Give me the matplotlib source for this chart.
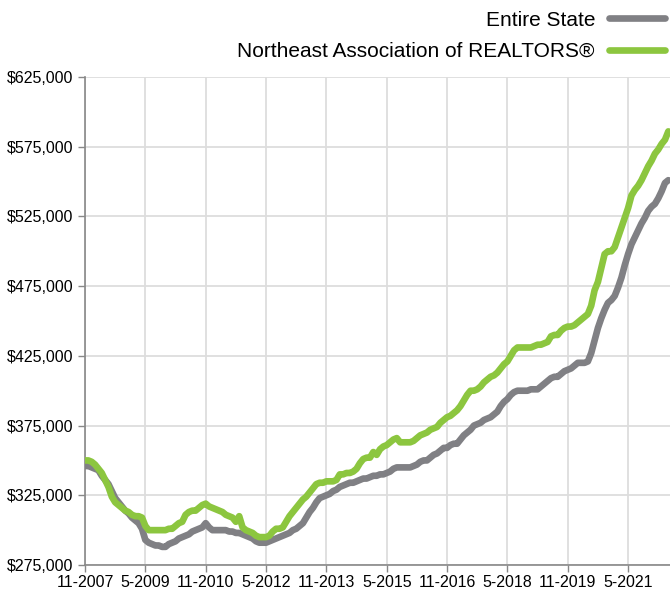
"""Median sales price: Entire State vs Northeast Association of REALTORS"""

import matplotlib
matplotlib.use("Agg")
import matplotlib.pyplot as plt
from matplotlib.ticker import FuncFormatter

# Monthly values (thousands of $), 11-2007 .. 5-2022
entire_state = [
    346, 346, 345, 344, 343, 339, 336, 333, 328, 323, 320, 317,
    314, 312, 309, 307, 305, 301, 293, 291, 290, 289, 289, 288,
    288, 290, 291, 292, 294, 295, 296, 297, 299, 300, 301, 302,
    305, 302, 300, 300, 300, 300, 300, 299, 299, 298, 298, 297,
    296, 295, 294, 292, 291, 291, 291, 292, 293, 294, 295, 296,
    297, 298, 300, 301, 303, 305, 309, 313, 316, 320, 323, 324,
    325, 326, 328, 329, 331, 332, 333, 334, 334, 335, 336, 337,
    337, 338, 339, 339, 340, 340, 341, 342, 344, 345, 345, 345,
    345, 345, 346, 347, 349, 350, 350, 352, 354, 355, 357, 359,
    359, 361, 362, 362, 365, 368, 370, 372, 375, 376, 377, 379,
    380, 381, 383, 385, 389, 392, 394, 397, 399, 400, 400, 400,
    400, 401, 401, 401, 403, 405, 407, 409, 410, 410, 412, 414,
    415, 416, 418, 420, 420, 420, 421, 427, 436, 445, 452, 458,
    463, 465, 468, 474, 481, 490, 498, 505, 510, 515, 520, 524,
    529, 532, 534, 538, 543, 549, 551,
]
northeast = [
    350, 350, 349, 347, 344, 341, 336, 331, 324, 320, 318, 316,
    314, 313, 311, 310, 310, 309, 303, 300, 300, 300, 300, 300,
    300, 301, 301, 303, 305, 306, 311, 313, 314, 314, 316, 318,
    319, 317, 316, 315, 314, 313, 311, 310, 309, 306, 310, 302,
    300, 299, 298, 296, 295, 295, 295, 296, 299, 301, 301, 302,
    306, 310, 313, 316, 319, 322, 324, 327, 330, 333, 334, 334,
    335, 335, 335, 336, 340, 340, 341, 341, 342, 344, 348, 351,
    352, 352, 356, 354, 358, 360, 361, 363, 365, 366, 363, 363,
    363, 363, 364, 366, 368, 369, 370, 372, 373, 374, 377, 379,
    381, 382, 384, 386, 389, 393, 397, 400, 400, 401, 403, 406,
    408, 410, 411, 413, 416, 419, 421, 425, 429, 431, 431, 431,
    431, 431, 432, 433, 433, 434, 435, 439, 440, 440, 443, 445,
    446, 446, 447, 449, 451, 453, 455, 461, 472, 478, 488, 498,
    500, 500, 503, 510, 517, 524, 531, 540, 544, 547, 551, 556,
    561, 565, 570, 573, 577, 580, 586,
]
tick_labels = ['11-2007', '5-2009', '11-2010', '5-2012', '11-2013',
               '5-2015', '11-2016', '5-2018', '11-2019', '5-2021']
y_ticks = [275000, 325000, 375000, 425000, 475000, 525000, 575000, 625000]

plt.rcParams['font.family'] = ['Liberation Sans', 'DejaVu Sans']

months = list(range(len(entire_state)))
state_vals = [v * 1000 for v in entire_state]
ne_vals = [v * 1000 for v in northeast]

fig = plt.figure(figsize=(6.7, 5.92), dpi=100)
ax = fig.add_axes([85 / 670, 1 - 565 / 592, 1 - 85 / 670, (565 - 77) / 592])

ax.plot(months, state_vals, color='#808084', lw=4.8, solid_joinstyle='round',
        solid_capstyle='round', label='Entire State', zorder=3)
ax.plot(months, ne_vals, color='#8cc63f', lw=4.8, solid_joinstyle='round',
        solid_capstyle='round', label='Northeast Association of REALTORS®', zorder=4)

ax.set_xlim(0, 174.5)
ax.set_ylim(275000, 625000)
ax.set_xticks(range(0, 18 * len(tick_labels), 18))
ax.set_xticklabels(tick_labels, fontsize=11.5)
ax.set_yticks(y_ticks)
ax.yaxis.set_major_formatter(FuncFormatter(lambda v, p: f'${v:,.0f}'))
ax.tick_params(axis='y', labelsize=11.5, length=5, color='#888888', width=1)
ax.tick_params(axis='x', length=5, color='#888888', width=1, pad=2)
ax.grid(True, color='#dddddd', lw=1.3, zorder=0)
ax.set_axisbelow(True)

for s in ['top', 'right']:
    ax.spines[s].set_visible(False)
for s in ['left', 'bottom']:
    ax.spines[s].set_color('#888888')
    ax.spines[s].set_linewidth(1.2)

fig.legend(loc='upper right', bbox_to_anchor=(1.0, 0.991), frameon=False,
           markerfirst=False, fontsize=15, handlelength=2.7,
           labelspacing=0.6, handletextpad=0.65, borderaxespad=0.05,
           borderpad=0.2)

fig.savefig('out.png', dpi=100)
